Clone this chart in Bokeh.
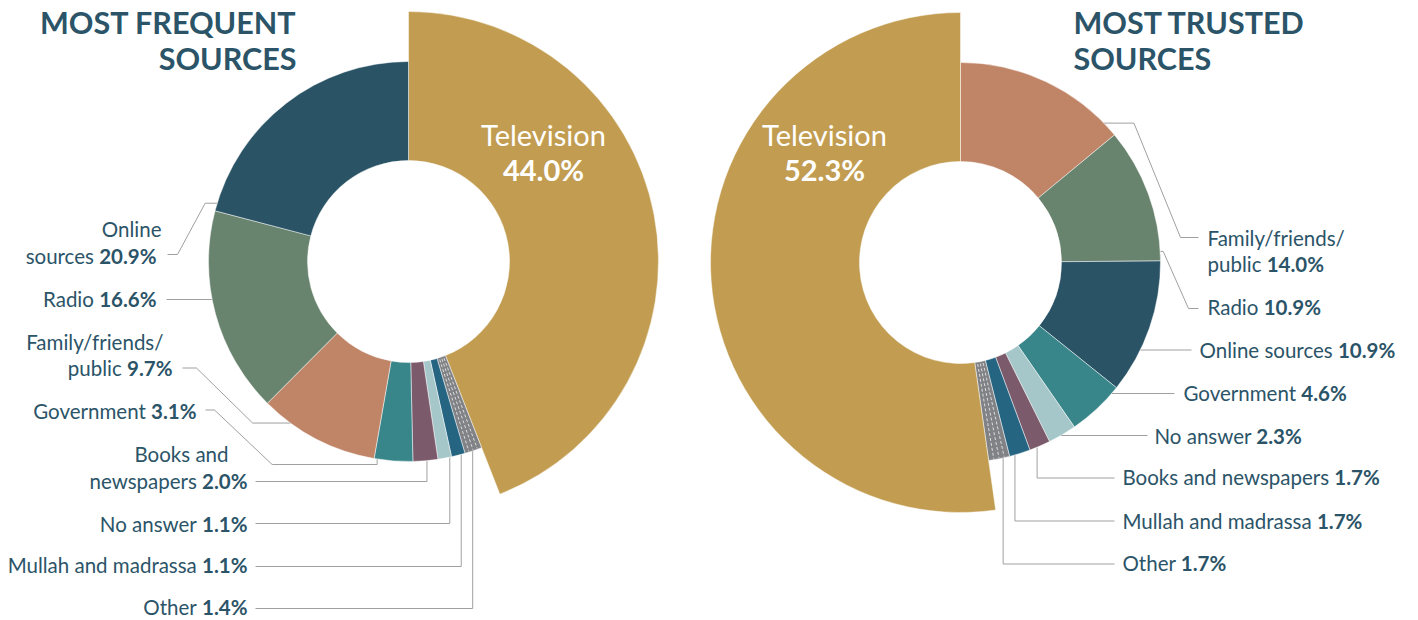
import math, os, glob, subprocess
from bokeh.plotting import figure
from bokeh.models import Range1d, ColumnDataSource
from bokeh.embed import file_html
from bokeh.resources import INLINE
from bokeh.core.properties import value

# ---------------- data ----------------
left_title = ["MOST FREQUENT", "SOURCES"]
right_title = ["MOST TRUSTED", "SOURCES"]

left_categories = ["Television", "Online sources", "Radio", "Family/friends/public",
                   "Government", "Books and newspapers", "No answer",
                   "Mullah and madrassa", "Other"]
left_values = [44.0, 20.9, 16.6, 9.7, 3.1, 2.0, 1.1, 1.1, 1.4]

right_categories = ["Television", "Family/friends/public", "Radio", "Online sources",
                    "Government", "No answer", "Books and newspapers",
                    "Mullah and madrassa", "Other"]
right_values = [52.3, 14.0, 10.9, 10.9, 4.6, 2.3, 1.7, 1.7, 1.7]

# clockwise order of slices starting at 12 o'clock
left_order = ["Television", "Other", "Mullah and madrassa", "No answer",
              "Books and newspapers", "Government", "Family/friends/public",
              "Radio", "Online sources"]
right_order = ["Family/friends/public", "Radio", "Online sources", "Government",
               "No answer", "Books and newspapers", "Mullah and madrassa", "Other",
               "Television"]

# ---------------- styles ----------------
colors = {
    "Television": "#C29D51",
    "Online sources": "#2A5366",
    "Radio": "#68836E",
    "Family/friends/public": "#C08467",
    "Government": "#38868A",
    "Books and newspapers": "#7B5B6B",
    "No answer": "#A5C7CA",
    "Mullah and madrassa": "#256582",
    "Other": "#808285",
}
TEXT = "#2B5468"
LEADER = "#A0A0A0"
FONT = "Lato"
FS = 20.5
BASE_SHIFT = 0.40   # renderer places the alphabetic baseline ~0.4em lower

R_IN, R_OUT, R_TV = 101, 200, 250
CX_L, CY_L = 408, 261
CX_R, CY_R = 960, 262

# label layout: name lines (text, x edge, baseline), last line (name part, x edge, baseline)
left_layout = {
    "Online sources": dict(pre=[("Online", 161, 237)], last=("sources", 156, 263.3),
                           lead=dict(x0=167, y0=254, mode="frac", frac=0.03, knee=177, stub=-12)),
    "Radio": dict(pre=[], last=("Radio", 156, 306.7),
                  lead=dict(x0=166, y0=299, mode="y")),
    "Family/friends/public": dict(pre=[("Family/friends/", 163, 350)], last=("public", 172, 376),
                                  lead=dict(x0=182, y0=367.5, mode="frac", frac=0.75, knee=196, stub=-38)),
    "Government": dict(pre=[], last=("Government", 196, 419),
                       lead=dict(x0=205, y0=409.5, mode="frac", frac=0.92, knee=214, stub=-105, drop=5.5)),
    "Books and newspapers": dict(pre=[("Books and", 228, 461.7)], last=("newspapers", 247, 488.3),
                                 lead=dict(x0=255, y0=481, mode="vert", frac=0.44)),
    "No answer": dict(pre=[], last=("No answer", 247, 531.7),
                      lead=dict(x0=255, y0=523, mode="vert", frac=0.13)),
    "Mullah and madrassa": dict(pre=[], last=("Mullah and madrassa", 247, 573),
                                lead=dict(x0=255, y0=566, mode="vert", frac=0.28)),
    "Other": dict(pre=[], last=("Other", 247, 615),
                  lead=dict(x0=255, y0=608, mode="vert", frac=0.54)),
}
right_layout = {
    "Family/friends/public": dict(pre=[("Family/friends/", 1207, 245.7)], last=("public", 1207, 271.7),
                                  lead=dict(x0=1198, y0=237, mode="frac", frac=0.91, knee=1180, stub=30)),
    "Radio": dict(pre=[], last=("Radio", 1207, 315),
                  lead=dict(x0=1198, y0=308, mode="frac", frac=0.93, knee=1188, stub=3)),
    "Online sources": dict(pre=[], last=("Online sources", 1199, 357.3),
                           lead=dict(x0=1191, y0=349.5, mode="y")),
    "Government": dict(pre=[], last=("Government", 1183, 400.7),
                       lead=dict(x0=1174, y0=393, mode="y")),
    "No answer": dict(pre=[], last=("No answer", 1154, 443.3),
                      lead=dict(x0=1147, y0=435, mode="y")),
    "Books and newspapers": dict(pre=[], last=("Books and newspapers", 1122, 485),
                                 lead=dict(x0=1114, y0=477.5, mode="vert", frac=0.64)),
    "Mullah and madrassa": dict(pre=[], last=("Mullah and madrassa", 1122, 528.3),
                                lead=dict(x0=1114, y0=520.5, mode="vert", frac=0.74)),
    "Other": dict(pre=[], last=("Other", 1122, 570.7),
                  lead=dict(x0=1114, y0=563.5, mode="vert", frac=0.31)),
}

# ---------------- text measurement ----------------
def _find(name):
    for d in ["/usr/share/fonts", "/usr/local/share/fonts",
              os.path.expanduser("~/.fonts"), os.path.expanduser("~/.local/share/fonts")]:
        hits = glob.glob(os.path.join(d, "**", name), recursive=True)
        if hits:
            return hits[0]
    return None

def _fc(pattern):
    try:
        r = subprocess.run(["fc-match", "-f", "%{file}", pattern], capture_output=True, text=True, timeout=5)
        return r.stdout.strip() or None
    except Exception:
        return None

_fonts = {}
try:
    from PIL import ImageFont
    for bold, fname, pat in [(False, "Lato-Regular.ttf", "Lato:style=Regular"),
                             (True, "Lato-Bold.ttf", "Lato:style=Bold")]:
        path = _find(fname) or _fc(pat)
        if path:
            _fonts[bold] = ImageFont.truetype(path, 100)
except Exception:
    pass

def tw(s, bold, size=FS):
    f = _fonts.get(bold)
    if f is not None:
        return f.getlength(s) * size / 100.0
    return len(s) * size * (0.55 if bold else 0.5)

def by_(baseline, size):
    """data y for a desired screen baseline"""
    return -(baseline - BASE_SHIFT * size)

# ---------------- geometry ----------------
def slice_angles(categories, values, order):
    vals = dict(zip(categories, values))
    total = sum(values)
    out, acc = {}, 0.0
    for c in order:
        a0 = acc / total * 360.0
        acc += vals[c]
        out[c] = (a0, acc / total * 360.0)
    return out

def pt(cx, cy, r, theta):
    t = math.radians(theta)
    return cx + r * math.sin(t), cy - r * math.cos(t)

W, H = 1418, 620
p = figure(width=W, height=H, x_range=Range1d(0, W), y_range=Range1d(-H, 0),
           output_backend="svg", toolbar_location=None, x_axis_type=None, y_axis_type=None,
           min_border=0, title=None, outline_line_color=None)
p.background_fill_color = "white"
p.border_fill_color = "white"

def draw_chart(cx, cy, categories, values, order, layout, side, fmtvals):
    ang = slice_angles(categories, values, order)
    # leaders
    xs, ys = [], []
    for c, lay in layout.items():
        L = lay["lead"]
        a0, a1 = ang[c]
        if L["mode"] == "y":
            dy = L["y0"] - cy
            dx = math.sqrt(max(R_OUT ** 2 - dy ** 2, 0))
            xa = cx - dx if side == "left" else cx + dx
            route = [(L["x0"], L["y0"]), (xa, L["y0"])]
        else:
            xa, ya = pt(cx, cy, R_OUT, a0 + L["frac"] * (a1 - a0))
            if L["mode"] == "vert":
                route = [(L["x0"], L["y0"]), (xa, L["y0"]), (xa, ya)]
            else:
                yh = ya + L.get("drop", 0)
                route = [(L["x0"], L["y0"]), (L["knee"], L["y0"]), (xa + L["stub"], yh),
                         (xa, yh), (xa, ya)]
        xs.append([q[0] for q in route])
        ys.append([-q[1] for q in route])
    p.multi_line(xs, ys, line_color=LEADER, line_width=1)

    # wedges
    src = dict(x=[], y=[], ri=[], ro=[], s=[], e=[], col=[])
    for c in order:
        a0, a1 = ang[c]
        src["x"].append(cx); src["y"].append(-cy)
        src["ri"].append(R_IN)
        src["ro"].append(R_TV if c == "Television" else R_OUT)
        src["s"].append(math.radians(90 - a1)); src["e"].append(math.radians(90 - a0))
        src["col"].append(colors[c])
    p.annular_wedge(x="x", y="y", inner_radius="ri", outer_radius="ro", start_angle="s",
                    end_angle="e", fill_color="col", line_color="white", line_width=0.6,
                    line_alpha=0.8, source=ColumnDataSource(src))
    # dashed divisions inside "Other"
    a0, a1 = ang["Other"]
    dx, dy = [], []
    for k in range(1, 4):
        th = a0 + k * (a1 - a0) / 4
        x1, y1 = pt(cx, cy, R_IN + 2, th)
        x2, y2 = pt(cx, cy, R_OUT - 1, th)
        dx.append([x1, x2]); dy.append([-y1, -y2])
    p.multi_line(dx, dy, line_color="white", line_width=0.8, line_dash="3 2", line_alpha=0.9)

    # labels
    nx, ny, nt, bx, byy, bt = [], [], [], [], [], []
    for c, lay in layout.items():
        v = fmtvals[c]
        for (t, x, y) in lay["pre"]:
            nx.append(x); ny.append(by_(y, FS)); nt.append(t)
        name, x, y = lay["last"]
        if side == "left":
            bx.append(x); byy.append(by_(y, FS)); bt.append(v)
            nx.append(x - tw(v, True) - tw(" ", False)); ny.append(by_(y, FS)); nt.append(name)
        else:
            nx.append(x); ny.append(by_(y, FS)); nt.append(name)
            bx.append(x + tw(name + " ", False)); byy.append(by_(y, FS)); bt.append(v)
    align = "right" if side == "left" else "left"
    p.text(x=nx, y=ny, text=nt, text_font=value(FONT), text_font_size=f"{FS}px",
           text_align=align, text_baseline="alphabetic", text_color=TEXT)
    p.text(x=bx, y=byy, text=bt, text_font=value(FONT), text_font_size=f"{FS}px",
           text_font_style="bold", text_align=align, text_baseline="alphabetic",
           text_color=TEXT)

lf = {c: f"{v:.1f}%" for c, v in zip(left_categories, left_values)}
rf = {c: f"{v:.1f}%" for c, v in zip(right_categories, right_values)}

draw_chart(CX_L, CY_L, left_categories, left_values, left_order, left_layout, "left", lf)
draw_chart(CX_R, CY_R, right_categories, right_values, right_order, right_layout, "right", rf)

# Television labels
TVS = 29
for cx, val in [(543, lf["Television"]), (824, rf["Television"])]:
    p.text(x=[cx], y=[by_(146, TVS)], text=["Television"], text_font=value(FONT),
           text_font_size=f"{TVS}px", text_align="center", text_baseline="alphabetic",
           text_color="white")
    p.text(x=[cx], y=[by_(181, TVS)], text=[val], text_font=value(FONT),
           text_font_size=f"{TVS}px", text_font_style="bold", text_align="center",
           text_baseline="alphabetic", text_color="white")

# titles
TS = 30.5
p.text(x=[296, 296], y=[by_(34, TS), by_(70, TS)], text=left_title, text_font=value(FONT),
       text_font_size=f"{TS}px", text_font_style="bold", text_align="right",
       text_baseline="alphabetic", text_color=TEXT)
p.text(x=[1073, 1073], y=[by_(34, TS), by_(70, TS)], text=right_title, text_font=value(FONT),
       text_font_size=f"{TS}px", text_font_style="bold", text_align="left",
       text_baseline="alphabetic", text_color=TEXT)

open("out.html", "w").write(file_html(p, INLINE))
